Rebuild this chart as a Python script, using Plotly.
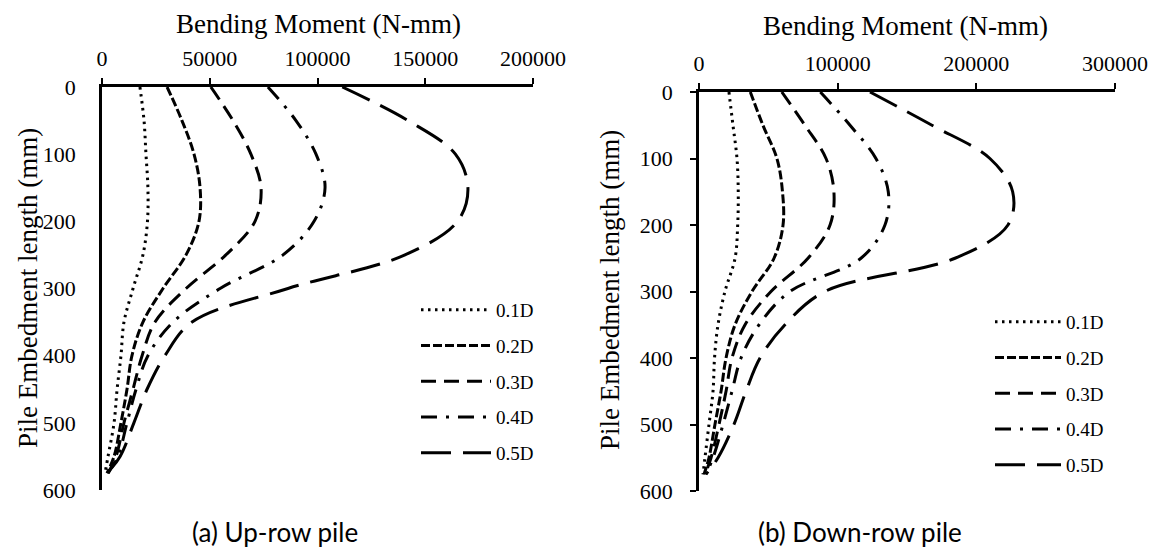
import plotly.graph_objects as go

W, H = 1161, 550

# Depth along pile (mm)
depth = [0, 50, 100, 150, 200, 250, 300, 350, 400, 450, 500, 550, 575]

series_names = ["0.1D", "0.2D", "0.3D", "0.4D", "0.5D"]

# (a) Up-row pile bending moments (N-mm)
up_01 = [17600, 19500, 20400, 21300, 21100, 19000, 14400, 10200, 8800, 7000, 5600, 2800, 1400]
up_02 = [30200, 37100, 42700, 45500, 45000, 39000, 28300, 19000, 13900, 11600, 8800, 5600, 2300]
up_03 = [50500, 60800, 69100, 73800, 71000, 57500, 39000, 24600, 18600, 14400, 10200, 6500, 2800]
up_04 = [77000, 90000, 99300, 103500, 98400, 84000, 54800, 33000, 21300, 15800, 11600, 7400, 2800]
up_05 = [111500, 142000, 164000, 169800, 165000, 140600, 86300, 41800, 29200, 20900, 14800, 8400, 2300]

# (b) Down-row pile bending moments (N-mm)
dn_01 = [21600, 24500, 27400, 28300, 27900, 26000, 18700, 13700, 11200, 10100, 7200, 4300, 2900]
dn_02 = [37000, 46100, 56200, 60200, 60600, 54100, 38200, 26000, 19500, 15900, 11500, 7200, 3600]
dn_03 = [59700, 76400, 91600, 97300, 94500, 78600, 51900, 33200, 23800, 19500, 14400, 8700, 4300]
dn_04 = [87500, 108900, 127600, 136500, 134100, 116800, 65600, 43300, 30300, 23800, 17300, 10100, 5000]
dn_05 = [123300, 168000, 209800, 226200, 222800, 184600, 90800, 62000, 44000, 33900, 25200, 13700, 5000]

up_series = [up_01, up_02, up_03, up_04, up_05]
dn_series = [dn_01, dn_02, dn_03, dn_04, dn_05]

x_title = "Bending Moment (N-mm)"
y_title = "Pile Embedment length (mm)"
captions = ["(a) Up-row pile", "(b) Down-row pile"]

dashes = ["2.5px,4.5px", "9px,3px", "15px,8px", "16px,9px,3px,9px", "30px,12px"]

serif = "Liberation Serif, Times New Roman, serif"
sans = "Lato, Open Sans, sans-serif"

fig = go.Figure()

for i, (name, vals) in enumerate(zip(series_names, up_series)):
    fig.add_trace(go.Scatter(
        x=vals, y=depth, name=name, mode="lines",
        line=dict(color="black", width=3, dash=dashes[i], shape="spline", smoothing=1),
        xaxis="x", yaxis="y", legend="legend", legendgroup="a" + str(i),
    ))
for i, (name, vals) in enumerate(zip(series_names, dn_series)):
    fig.add_trace(go.Scatter(
        x=vals, y=depth, name=name, mode="lines",
        line=dict(color="black", width=3, dash=dashes[i], shape="spline", smoothing=1),
        xaxis="x2", yaxis="y2", legend="legend2", legendgroup="b" + str(i),
    ))

def px_x(p):
    return p / W

def px_y(p):
    return 1 - p / H

axis_common = dict(
    showgrid=False, zeroline=False, showline=True, linecolor="black", linewidth=2.5,
    tickfont=dict(family=serif, size=22, color="black"),
    tickcolor="black", tickwidth=2, ticklen=6,
)

fig.update_layout(
    width=W, height=H,
    margin=dict(l=0, r=0, t=0, b=0, autoexpand=False),
    paper_bgcolor="white", plot_bgcolor="white",
    xaxis=dict(
        domain=[px_x(102), px_x(533)], anchor="y", side="top", range=[0, 200000],
        dtick=50000, tickformat="d", ticks="outside", ticklabelstandoff=3,
        **axis_common,
    ),
    yaxis=dict(
        domain=[px_y(490), px_y(87)], anchor="x", range=[600, 0], dtick=100, ticks="",
        ticklabelstandoff=19,
        **axis_common,
    ),
    xaxis2=dict(
        domain=[px_x(699), px_x(1115)], anchor="y2", side="top", range=[0, 300000],
        dtick=100000, tickformat="d", ticks="outside", ticklabelstandoff=3,
        **axis_common,
    ),
    yaxis2=dict(
        domain=[px_y(491), px_y(92)], anchor="x2", range=[600, 0], dtick=100, ticks="outside",
        ticklabelstandoff=13,
        **axis_common,
    ),
    legend=dict(
        x=px_x(416), y=px_y(291), xanchor="left", yanchor="top",
        font=dict(family=serif, size=19, color="black"),
        bgcolor="rgba(0,0,0,0)", itemwidth=70, traceorder="grouped", tracegroupgap=8,
    ),
    legend2=dict(
        x=px_x(990), y=px_y(303), xanchor="left", yanchor="top",
        font=dict(family=serif, size=19, color="black"),
        bgcolor="rgba(0,0,0,0)", itemwidth=66, traceorder="grouped", tracegroupgap=8,
    ),
    annotations=[
        dict(text=x_title, x=px_x(318), y=px_y(24), xref="paper", yref="paper",
             xanchor="center", yanchor="middle", showarrow=False,
             font=dict(family=serif, size=27, color="black")),
        dict(text=x_title, x=px_x(905), y=px_y(26), xref="paper", yref="paper",
             xanchor="center", yanchor="middle", showarrow=False,
             font=dict(family=serif, size=27, color="black")),
        dict(text=y_title, x=px_x(28), y=px_y(288), xref="paper", yref="paper",
             xanchor="center", yanchor="middle", showarrow=False, textangle=-90,
             font=dict(family=serif, size=27, color="black")),
        dict(text=y_title, x=px_x(610), y=px_y(290), xref="paper", yref="paper",
             xanchor="center", yanchor="middle", showarrow=False, textangle=-90,
             font=dict(family=serif, size=27, color="black")),
        dict(text=captions[0], x=px_x(275), y=px_y(532), xref="paper", yref="paper",
             xanchor="center", yanchor="middle", showarrow=False,
             font=dict(family=sans, size=26, color="black")),
        dict(text=captions[1], x=px_x(860), y=px_y(532), xref="paper", yref="paper",
             xanchor="center", yanchor="middle", showarrow=False,
             font=dict(family=sans, size=26, color="black")),
    ],
)

fig.write_html("out.html")
